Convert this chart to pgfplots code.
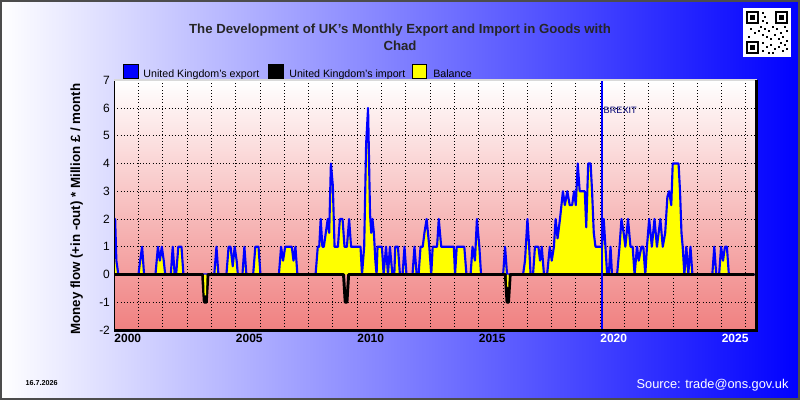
\documentclass[border=0pt]{standalone}
\usepackage{pgfplots}
\pgfplotsset{compat=1.18}
\usepackage{pgfplotstable}
\usepackage{fontspec}
\setmainfont{Liberation Sans}
\definecolor{ukblue}{RGB}{0,0,255}
\definecolor{coral}{RGB}{240,128,128}
\definecolor{balyellow}{RGB}{255,255,0}

% United Kingdom's export (million GBP / month)
\pgfplotstableread[row sep=\\]{
x y\\
2000.00 2\\ 2000.04 2\\ 2000.09 0.5\\ 2000.17 0\\
2001.00 0\\ 2001.07 0.5\\ 2001.15 1\\ 2001.23 0\\
2001.70 0\\ 2001.80 1\\ 2001.88 0.5\\ 2001.96 1\\ 2002.04 0.5\\ 2002.10 0\\
2002.33 0\\ 2002.41 1\\ 2002.49 0\\
2002.55 0\\ 2002.64 1\\ 2002.77 1\\ 2002.85 0\\
2004.12 0\\ 2004.21 1\\ 2004.29 0\\
2004.62 0\\ 2004.71 1\\ 2004.79 1\\ 2004.88 0.3\\ 2004.96 1\\ 2005.04 0.5\\ 2005.09 0\\
2005.28 0\\ 2005.36 1\\ 2005.44 0\\
2005.72 0\\ 2005.81 1\\ 2005.94 1\\ 2006.02 0\\
2006.78 0\\ 2006.87 1\\ 2006.95 0.5\\ 2007.04 1\\ 2007.31 1\\ 2007.38 0.5\\ 2007.46 1\\ 2007.54 0\\
2008.29 0\\ 2008.38 1\\ 2008.44 1\\ 2008.50 2\\ 2008.57 1\\ 2008.63 1\\ 2008.71 1.5\\ 2008.79 2\\ 2008.85 1.5\\ 2008.92 4\\ 2009.00 3.2\\ 2009.07 1\\ 2009.21 1\\ 2009.29 2\\ 2009.40 2\\ 2009.48 1\\ 2009.58 1\\ 2009.67 2\\ 2009.75 1\\ 2010.14 1\\ 2010.20 0\\ 2010.29 1\\ 2010.37 4.7\\ 2010.45 6\\ 2010.53 2.2\\ 2010.58 1.5\\ 2010.63 2\\ 2010.69 1.5\\ 2010.75 0.5\\ 2010.80 0\\ 2010.84 1\\ 2011.02 1\\ 2011.09 0\\ 2011.19 1\\ 2011.27 0\\ 2011.35 1\\ 2011.45 0\\ 2011.53 0\\ 2011.57 1\\ 2011.68 1\\ 2011.76 0\\ 2011.87 0\\ 2011.95 1\\ 2012.03 0\\
2012.28 0\\ 2012.36 1\\ 2012.45 0\\ 2012.53 0\\ 2012.61 1\\ 2012.70 1\\ 2012.77 1.5\\ 2012.86 2\\ 2012.97 1\\ 2013.05 0\\ 2013.11 1\\ 2013.29 1\\ 2013.36 2\\ 2013.46 1\\ 2013.98 1\\ 2014.03 0\\ 2014.10 1\\ 2014.41 1\\ 2014.50 0\\
2014.67 0\\ 2014.75 1\\ 2014.85 0.5\\ 2014.93 2\\ 2015.03 1\\ 2015.10 0\\
2016.01 0\\ 2016.09 1\\ 2016.17 0\\
2016.83 0\\ 2016.91 0.5\\ 2017.01 2\\ 2017.08 1\\ 2017.14 0\\
2017.24 0\\ 2017.32 1\\ 2017.46 1\\ 2017.53 0.5\\ 2017.60 1\\ 2017.69 0\\
2017.82 0\\ 2017.93 1\\ 2018.01 0.5\\ 2018.10 1\\ 2018.17 2\\ 2018.25 1.3\\ 2018.35 2\\ 2018.47 3\\ 2018.55 2.5\\ 2018.65 3\\ 2018.75 2.5\\ 2018.85 2.5\\ 2018.93 3\\ 2019.00 2.5\\ 2019.08 4\\ 2019.16 3\\ 2019.37 3\\ 2019.43 1.7\\ 2019.51 4\\ 2019.61 4\\ 2019.67 3\\ 2019.74 1.5\\ 2019.81 1\\ 2020.08 1\\ 2020.15 2\\ 2020.22 1\\ 2020.29 0\\ 2020.36 0\\ 2020.43 1\\ 2020.49 0\\
2020.70 0\\ 2020.80 1\\ 2020.88 2\\ 2020.97 1.5\\ 2021.04 1\\ 2021.15 2\\ 2021.25 1\\ 2021.34 1\\ 2021.42 0\\ 2021.52 1\\ 2021.59 0.5\\ 2021.70 1\\ 2021.78 1\\ 2021.86 0\\ 2021.93 1\\ 2022.02 2\\ 2022.13 1\\ 2022.24 2\\ 2022.34 1\\ 2022.48 2\\ 2022.58 1\\ 2022.68 1.5\\ 2022.77 2.8\\ 2022.84 3\\ 2022.93 2.5\\ 2022.99 4\\ 2023.23 4\\ 2023.29 3\\ 2023.35 1.5\\ 2023.40 1\\ 2023.47 0\\ 2023.55 1\\ 2023.63 0\\ 2023.72 1\\ 2023.80 0\\
2024.62 0\\ 2024.70 1\\ 2024.78 0\\ 2024.90 0\\ 2024.98 1\\ 2025.06 0.5\\ 2025.14 1\\ 2025.22 1\\ 2025.30 0\\ 2026.35 0\\
}\Exp

% United Kingdom's import, drawn as outflow (negative)
\pgfplotstableread[row sep=\\]{
x y\\
2000.00 0\\ 2003.64 0\\ 2003.71 -1\\ 2003.79 -1\\ 2003.86 0\\ 2009.44 0\\ 2009.51 -1\\ 2009.58 -1\\ 2009.65 0\\ 2016.10 0\\ 2016.17 -1\\ 2016.23 -1\\ 2016.30 0\\ 2026.35 0\\
}\Imp

\begin{document}
\begin{tikzpicture}[x=0.75pt,y=0.75pt]
% page background
\shade[left color=white, right color=ukblue] (0,0) rectangle (800,400);
\draw[black!70, line width=1.5pt] (0.75,0.75) rectangle (799.25,399.25);

% title
\node[anchor=base, font=\fontsize{9.9}{12}\selectfont\bfseries, text=black!85] at (400,367) {The Development of UK's Monthly Export and Import in Goods with};
\node[anchor=base, font=\fontsize{9.9}{12}\selectfont\bfseries, text=black!85] at (400,350) {Chad};

% legend
\draw[black, line width=0.75pt, fill=ukblue] (123,322) rectangle (138,336);
\node[anchor=base west, inner sep=0pt, font=\fontsize{8}{9}\selectfont] at (143,323) {United Kingdom's export};
\draw[black, line width=0.75pt, fill=black] (268,322) rectangle (283,336);
\node[anchor=base west, inner sep=0pt, font=\fontsize{8}{9}\selectfont] at (289,323) {United Kingdom's import};
\draw[black, line width=0.75pt, fill=balyellow] (413,322) rectangle (427,336);
\node[anchor=base west, inner sep=0pt, font=\fontsize{8}{9}\selectfont] at (433,323) {Balance};

% QR-like badge
\fill[white] (743,343) rectangle (791,392);
\foreach \qx/\qy in {746/376, 775/376, 746/346}{
  \fill[black] (\qx,\qy) rectangle ++(13,13);
  \fill[white] (\qx+2,\qy+2) rectangle ++(9,9);
  \fill[black] (\qx+4,\qy+4) rectangle ++(5,5);
}
\foreach \qx/\qy in {762/386,764/382,762/378,766/376,760/372,764/370,768/368,772/372,776/370,780/366,784/372,786/368,762/364,766/362,770/360,774/364,778/360,782/362,786/358,762/356,766/352,770/354,774/350,778/352,782/348,786/350,762/348,768/346,772/346,750/370,754/366,748/362,758/368,780/356,784/354}{
  \fill[black] (\qx,\qy) rectangle ++(2.6,2.6);
}

% y label
\node[rotate=90, font=\fontsize{10}{12}\selectfont\bfseries] at (76.5,191) {Money flow (+in -out) * Million £ / month};

% date and source
\node[anchor=west, inner sep=0pt, font=\fontsize{5.4}{6}\selectfont\bfseries] at (25,17) {16.7.2026};
\node[anchor=east, inner sep=0pt, font=\fontsize{9.6}{11}\selectfont, text=white] at (789,15) {Source: trade@ons.gov.uk};

\begin{axis}[
  at={(85.5pt,52.5pt)}, anchor=south west,
  scale only axis, width=482.25pt, height=187.5pt,
  xmin=2000, xmax=2026.45, ymin=-2, ymax=7,
  ytick={-2,-1,...,7},
  xtick={2000,2005,...,2025},
  xticklabels={2000,2005,2010,2015,\textcolor{white}{2020},\textcolor{white}{2025}},
  minor xtick={2000,2001,...,2026},
  grid=both,
  major grid style={black, dotted, line width=0.6pt},
  minor grid style={black, dotted, line width=0.6pt},
  major tick length=0pt, minor tick length=0pt,
  axis line style={draw=none},
  /pgf/number format/assume math mode=true,
  xticklabel style={anchor=north west, inner sep=0pt, yshift=-3pt, font=\fontsize{9}{10}\selectfont\bfseries},
  yticklabel style={font=\fontsize{9}{10}\selectfont, inner sep=1pt, xshift=-2pt},
  axis background/.style={shade, top color=white, bottom color=coral},
  clip mode=individual,
]
% balance (yellow area)
\addplot[fill=balyellow, draw=none] table[x=x,y=y] {\Exp} \closedcycle;
% export
\addplot[ukblue, line width=1.6pt, line join=round] table[x=x,y=y] {\Exp};
% import
\addplot[black, line width=2.2pt, line join=round] table[x=x,y=y] {\Imp};
% negative balance
\addplot[fill=balyellow, draw=none] coordinates {(2003.70,0) (2003.72,-0.75) (2003.78,-0.75) (2003.80,0)} \closedcycle;
\addplot[fill=balyellow, draw=none] coordinates {(2016.16,0) (2016.18,-0.45) (2016.22,-0.45) (2016.24,0)} \closedcycle;
% Brexit marker
\addplot[ukblue, line width=2.2pt] coordinates {(2020.08,-2) (2020.08,7)};
\node[anchor=west, inner sep=1pt, font=\fontsize{6.9}{8}\selectfont, text=blue!45!black] at (axis cs:2020.08,5.9) {BREXIT};
% frame
\draw[black, line width=0.8pt] (rel axis cs:0,0) -- (rel axis cs:0,1);
\draw[white!85!black, line width=1.5pt] (rel axis cs:0,1) -- (rel axis cs:1,1);
\draw[black, line width=2.2pt] (rel axis cs:0,0) -- (rel axis cs:1,0) -- (rel axis cs:1,1);
\end{axis}
\end{tikzpicture}
\end{document}
